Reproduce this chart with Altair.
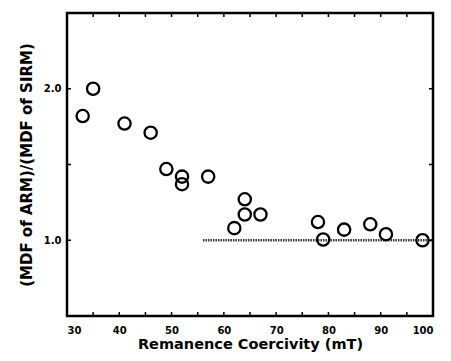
import altair as alt
import pandas as pd

coercivity = [33, 35, 41, 46, 49, 52, 52, 57, 64, 64, 67, 62, 78, 79, 83, 88, 91, 98]
ratio = [1.82, 2.00, 1.77, 1.71, 1.47, 1.42, 1.37, 1.42, 1.27, 1.17, 1.17, 1.08, 1.12, 1.005, 1.07, 1.105, 1.04, 1.00]

ref_x = [56, 100]
ref_y = [1.0, 1.0]

x_ticks = [35, 40, 45, 50, 55, 60, 65, 70, 75, 80, 85, 90, 95]
y_ticks = [1.0, 1.5, 2.0]

W, H = 366, 303
FONT = "DejaVu Sans"

pts = pd.DataFrame({"x": coercivity, "y": ratio})
ref = pd.DataFrame({"x": ref_x, "y": ref_y})
xt = pd.DataFrame({"x": x_ticks})
yt = pd.DataFrame({"y": y_ticks})

xscale = alt.Scale(domain=[30, 100], nice=False, zero=False)
yscale = alt.Scale(domain=[0.5, 2.5], nice=False, zero=False)

xaxis = alt.Axis(values=[30, 40, 50, 60, 70, 80, 90, 100], format="d", title="Remanence Coercivity (mT)",
                 domain=False, ticks=False, grid=False, labelPadding=9,
                 labelFont=FONT, labelFontWeight="bold", labelFontSize=10, labelColor="black",
                 titleFont=FONT, titleFontWeight="bold", titleFontSize=14.5, titleColor="black", titlePadding=2)
yaxis = alt.Axis(values=[1.0, 2.0], format=".1f", title="(MDF of ARM)/(MDF of SIRM)",
                 domain=False, ticks=False, grid=False, labelPadding=6,
                 labelFont=FONT, labelFontWeight="bold", labelFontSize=10, labelColor="black",
                 titleFont=FONT, titleFontWeight="bold", titleFontSize=15, titleColor="black", titlePadding=9)

points = alt.Chart(pts).mark_point(shape="circle", size=150, strokeWidth=2.3, color="black", filled=False, opacity=1).encode(
    x=alt.X("x:Q", scale=xscale, axis=xaxis),
    y=alt.Y("y:Q", scale=yscale, axis=yaxis),
)

line = alt.Chart(ref).mark_line(color="#333333", strokeWidth=2.5, strokeDash=[1.5, 1]).encode(
    x=alt.X("x:Q", scale=xscale),
    y=alt.Y("y:Q", scale=yscale),
)

bottom_ticks = alt.Chart(xt).mark_rule(color="black", strokeWidth=1.5).encode(
    x=alt.X("x:Q", scale=xscale), y=alt.value(H), y2=alt.value(H - 4))
top_ticks = alt.Chart(xt).mark_rule(color="black", strokeWidth=1.5).encode(
    x=alt.X("x:Q", scale=xscale), y=alt.value(0), y2=alt.value(4))
left_ticks = alt.Chart(yt).mark_rule(color="black", strokeWidth=1.5).encode(
    y=alt.Y("y:Q", scale=yscale), x=alt.value(0), x2=alt.value(4))
right_ticks = alt.Chart(yt).mark_rule(color="black", strokeWidth=1.5).encode(
    y=alt.Y("y:Q", scale=yscale), x=alt.value(W), x2=alt.value(W - 4))

chart = alt.layer(line, points, bottom_ticks, top_ticks, left_ticks, right_ticks).properties(
    width=W, height=H,
    autosize=alt.AutoSizeParams(type="none"),
    padding={"left": 59, "top": 5, "right": 10, "bottom": 37},
    background="white",
).configure_view(stroke="black", strokeWidth=2.5)

chart.save("out.html", embed_options={"renderer": "svg", "actions": False})
